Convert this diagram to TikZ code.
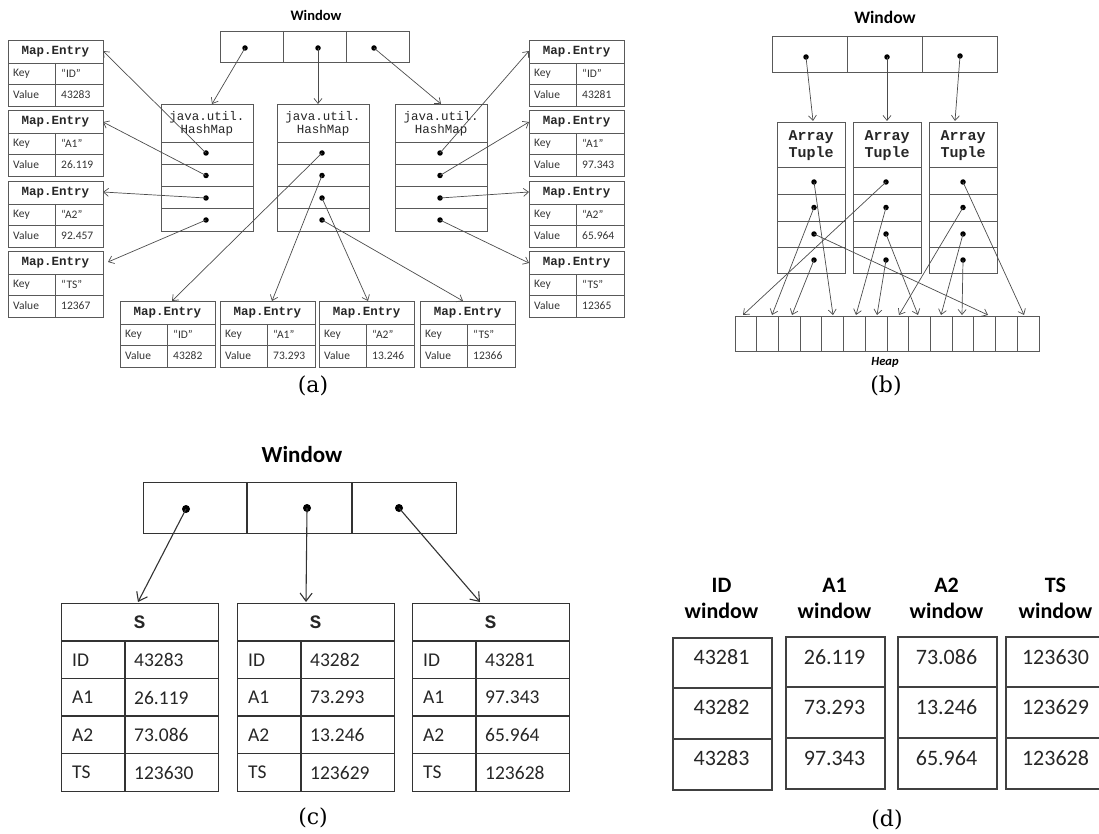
\documentclass[tikz,border=0pt]{standalone}
\usepackage{fontspec}
\setmainfont{Carlito}
\newfontfamily\monofont{Liberation Mono}
\newfontfamily\capfont{DejaVu Serif}
\usetikzlibrary{arrows.meta}

% ---------- building blocks ----------
% Map.Entry record: name, left, top, key, value
\newcommand\mapentry[5]{%
  \node[thin box, minimum width=95pt, minimum height=66pt, anchor=north west] (#1) at (#2,#3) {};
  \draw[thin grid] (#2,#3+23) -- ++(95,0) (#2,#3+44.5) -- ++(95,0) (#2+47,#3+23) -- (#2+47,#3+66);
  \node[entryhead] (#1-h) at (#2+47.5,#3+11.5) {Map.Entry};
  \node[cellsm, anchor=west] (#1-k) at (#2+5,#3+33.5) {Key};
  \node[cellsm, anchor=west] (#1-kv) at (#2+53,#3+33.5) {#4};
  \node[cellsm, anchor=west] (#1-v) at (#2+5,#3+55) {Value};
  \node[cellsm, anchor=west] (#1-vv) at (#2+53,#3+55) {#5};
}
% java.util.HashMap with four slots: name, left
\newcommand\hashmap[2]{%
  \node[thin box, minimum width=92pt, minimum height=127pt, anchor=north west] (#1) at (#2,104) {};
  \foreach \yy in {142,164.25,186.5,208.75} \draw[thin grid] (#2,\yy) -- ++(92,0);
  \node[monotext] (#1-t) at (#2+46,123.5) {java.util.\\HashMap};
  \foreach \k/\yy in {1/153,2/175.5,3/198,4/220} \node[ptr] (#1-\k) at (#2+45,\yy) {};
}
% ArrayTuple with four slots: name, left, dot x offset
\newcommand\arraytuple[3]{%
  \node[thin box, minimum width=68pt, minimum height=151pt, anchor=north west] (#1) at (#2,122) {};
  \foreach \yy in {167.5,194.5,221,247} \draw[thin grid] (#2,\yy) -- ++(68,0);
  \node[tuplehead] (#1-t) at (#2+34,145.5) {Array\\Tuple};
  \foreach \k/\yy in {1/182,2/207.5,3/234,4/260} \node[ptr] (#1-\k) at (#2+#3,\yy) {};
}
% struct S table: name, left, id, a1, a2, ts
\newcommand\stable[6]{%
  \node[thick box, minimum width=157pt, minimum height=188pt, anchor=north west] (#1) at (#2,603) {};
  \foreach \yy in {641,678.5,716,753.5} \draw[thick grid] (#2,\yy) -- ++(157,0);
  \draw[thick grid] (#2+64,641) -- (#2+64,791);
  \node[shead] (#1-h) at (#2+78.5,622) {S};
  \foreach \k/\lab/\val/\yy in {1/ID/#3/660,2/A1/#4/697.5,3/A2/#5/735,4/TS/#6/772.5}{
    \node[celltext, anchor=west] (#1-l\k) at (#2+11,\yy) {\lab};
    \node[celltext, anchor=west] (#1-v\k) at (#2+73,\yy) {\val};
  }
}
% column window: name, left, width, top, header, v1, v2, v3
\newcommand\colwin[8]{%
  \node[col box, minimum width=#3pt, minimum height=152pt, anchor=north west] (#1) at (#2,#4) {};
  \draw[col grid] (#2,#4+51) -- ++(#3,0) (#2,#4+102) -- ++(#3,0);
  \node[colhead] (#1-h) at (#2+#3/2,598) {#5\\window};
  \node[coltext] (#1-1) at (#2+#3/2,657) {#6};
  \node[coltext] (#1-2) at (#2+#3/2,707) {#7};
  \node[coltext] (#1-3) at (#2+#3/2,758) {#8};
}

\begin{document}
\begin{tikzpicture}[x=1pt,y=-1pt,
  thin box/.style={draw=black!65, line width=0.8pt, inner sep=0pt},
  thin grid/.style={draw=black!65, line width=0.8pt},
  thick box/.style={draw=black!80, line width=1.4pt, inner sep=0pt},
  thick grid/.style={draw=black!80, line width=1.4pt},
  col box/.style={draw=black!75, line width=1.8pt, inner sep=0pt},
  col grid/.style={draw=black!75, line width=1.8pt},
  ptr/.style={circle, fill=black, inner sep=0pt, minimum size=5.5pt},
  bigptr/.style={circle, fill=black, inner sep=0pt, minimum size=8pt},
  link/.style={draw=black!70, line width=0.7pt, -{Straight Barb[length=5pt,width=8pt]}},
  biglink/.style={draw=black!80, line width=1.1pt, -{Straight Barb[length=8pt,width=12pt]}},
  entryhead/.style={font=\monofont\bfseries\fontsize{12.5}{13}\selectfont, text=black!85, inner sep=0pt},
  cellsm/.style={font=\fontsize{11.5}{12}\selectfont, text=black!80, inner sep=0pt},
  monotext/.style={font=\monofont\fontsize{12.5}{13}\selectfont, text=black!85, align=center, inner sep=0pt},
  tuplehead/.style={font=\monofont\bfseries\fontsize{15}{17}\selectfont, text=black!85, align=center, inner sep=0pt},
  shead/.style={font=\monofont\bfseries\fontsize{19}{20}\selectfont, text=black!85, inner sep=0pt},
  celltext/.style={font=\fontsize{19.5}{20}\selectfont, text=black!85, inner sep=0pt},
  coltext/.style={font=\fontsize{22}{23}\selectfont, text=black!85, inner sep=0pt},
  colhead/.style={font=\bfseries\fontsize{22}{26}\selectfont, align=center, inner sep=0pt},
  title/.style={font=\bfseries, inner sep=0pt},
  caption/.style={font=\capfont\fontsize{22}{24}\selectfont, inner sep=0pt}]
\useasboundingbox (0,0) rectangle (1099,834);

% ================= (a) HashMaps of Map.Entry =================
\node[title, font=\bfseries\fontsize{14.5}{15}\selectfont] (wa-t) at (316,15) {Window};
\node[thin box, minimum width=189pt, minimum height=31pt, anchor=north west] (wa) at (220,31) {};
\draw[thin grid] (283,31) -- (283,62) (346,31) -- (346,62);
\node[ptr] (wa1) at (245,48) {};
\node[ptr] (wa2) at (318,48) {};
\node[ptr] (wa3) at (374,48) {};

\hashmap{hmA}{161}
\hashmap{hmB}{277}
\hashmap{hmC}{395}

\mapentry{eL1}{8}{40}{“ID”}{43283}
\mapentry{eL2}{8}{110}{“A1”}{26.119}
\mapentry{eL3}{8}{181}{“A2”}{92.457}
\mapentry{eL4}{8}{251}{“TS”}{12367}

\mapentry{eR1}{529}{40}{“ID”}{43281}
\mapentry{eR2}{529}{110}{“A1”}{97.343}
\mapentry{eR3}{529}{181}{“A2”}{65.964}
\mapentry{eR4}{529}{251}{“TS”}{12365}

\mapentry{eB1}{120}{301}{“ID”}{43282}
\mapentry{eB2}{220}{301}{“A1”}{73.293}
\mapentry{eB3}{319}{301}{“A2”}{13.246}
\mapentry{eB4}{420}{301}{“TS”}{12366}

\coordinate (hmA-in) at (212,104);
\coordinate (hmB-in) at (318,104);
\coordinate (hmC-in) at (441,104);
\coordinate (eL1-in) at (103,51);
\coordinate (eL2-in) at (103,122);
\coordinate (eL3-in) at (103,192);
\coordinate (eL4-in) at (108,262);
\coordinate (eR1-in) at (529,51);
\coordinate (eR2-in) at (529,122);
\coordinate (eR3-in) at (529,192);
\coordinate (eR4-in) at (529,263);
\coordinate (eB1-in) at (172,301);
\coordinate (eB2-in) at (272,301);
\coordinate (eB3-in) at (368,301);
\coordinate (eB4-in) at (463,301);

\draw[link] (wa1.center) -- (hmA-in);
\draw[link] (wa2.center) -- (hmB-in);
\draw[link] (wa3.center) -- (hmC-in);
\foreach \k in {1,2,3,4}{
  \draw[link] (hmA-\k.center) -- (eL\k-in);
  \draw[link] (hmB-\k.center) -- (eB\k-in);
  \draw[link] (hmC-\k.center) -- (eR\k-in);
}
\node[caption] (cap-a) at (313,386) {(a)};

% ================= (b) ArrayTuples on the heap =================
\node[title, font=\bfseries\fontsize{17.5}{18}\selectfont] (wb-t) at (885,17) {Window};
\node[thin box, minimum width=225pt, minimum height=36pt, anchor=north west] (wb) at (772,36) {};
\draw[thin grid] (847,36) -- (847,72) (922,36) -- (922,72);
\node[ptr] (wb1) at (806,57) {};
\node[ptr] (wb2) at (887,57) {};
\node[ptr] (wb3) at (960,56) {};

\arraytuple{atA}{777}{37}
\arraytuple{atB}{853}{33}
\arraytuple{atC}{929}{34}

% heap of 14 cells
\node[thin box, minimum width=304pt, minimum height=35pt, anchor=north west] (heap) at (735,316) {};
\foreach \i in {1,...,13} \draw[thin grid] (735+\i*21.714,316) -- ++(0,35);
\node[font=\bfseries\itshape\fontsize{12.5}{13}\selectfont, inner sep=0pt] (heap-t) at (885,362) {Heap};

\coordinate (atA-in) at (813,121);
\coordinate (atB-in) at (887,121);
\coordinate (atC-in) at (955,121);
\foreach \n/\hx in {h1/743,h2/772,h3/792,h4/833,h5/856,h6/877,h7/899,h8/918,h9/941,h10/962,h11/988,h12/1024}
  \coordinate (\n) at (\hx,315);

\draw[link] (wb1.center) -- (atA-in);
\draw[link] (wb2.center) -- (atB-in);
\draw[link] (wb3.center) -- (atC-in);
\draw[link] (atA-1.center) -- (h4);
\draw[link] (atA-2.center) -- (h2);
\draw[link] (atA-3.center) -- (h11);
\draw[link] (atA-4.center) -- (h3);
\draw[link] (atB-1.center) -- (h1);
\draw[link] (atB-2.center) -- (h5);
\draw[link] (atB-3.center) -- (h8);
\draw[link] (atB-4.center) -- (h6);
\draw[link] (atC-1.center) -- (h12);
\draw[link] (atC-2.center) -- (h7);
\draw[link] (atC-3.center) -- (h9);
\draw[link] (atC-4.center) -- (h10);
\node[caption] (cap-b) at (886,386) {(b)};

% ================= (c) structs S =================
\node[title, font=\bfseries\fontsize{23}{24}\selectfont] (wc-t) at (302,455) {Window};
\node[thick box, minimum width=313pt, minimum height=51pt, anchor=north west] (wc) at (143,482) {};
\draw[thick grid] (247,482) -- (247,533) (352,482) -- (352,533);
\node[bigptr] (wc1) at (186,509) {};
\node[bigptr] (wc2) at (307,508) {};
\node[bigptr] (wc3) at (399,508) {};

\stable{sA}{61}{43283}{26.119}{73.086}{123630}
\stable{sB}{237}{43282}{73.293}{13.246}{123629}
\stable{sC}{412}{43281}{97.343}{65.964}{123628}

\coordinate (sA-in) at (138,602);
\coordinate (sB-in) at (306,602);
\coordinate (sC-in) at (480,602);
\draw[biglink] (wc1.center) -- (sA-in);
\draw[biglink] (wc2.center) -- (sB-in);
\draw[biglink] (wc3.center) -- (sC-in);
\node[caption] (cap-c) at (313,818) {(c)};

% ================= (d) one window per column =================
\colwin{cID}{672}{99}{637}{ID}{43281}{43282}{43283}
\colwin{cA1}{785}{99}{636}{A1}{26.119}{73.293}{97.343}
\colwin{cA2}{897}{99}{636}{A2}{73.086}{13.246}{65.964}
\colwin{cTS}{1005}{101}{636}{TS}{123630}{123629}{123628}
\node[caption] (cap-d) at (887,820) {(d)};
\end{tikzpicture}
\end{document}
